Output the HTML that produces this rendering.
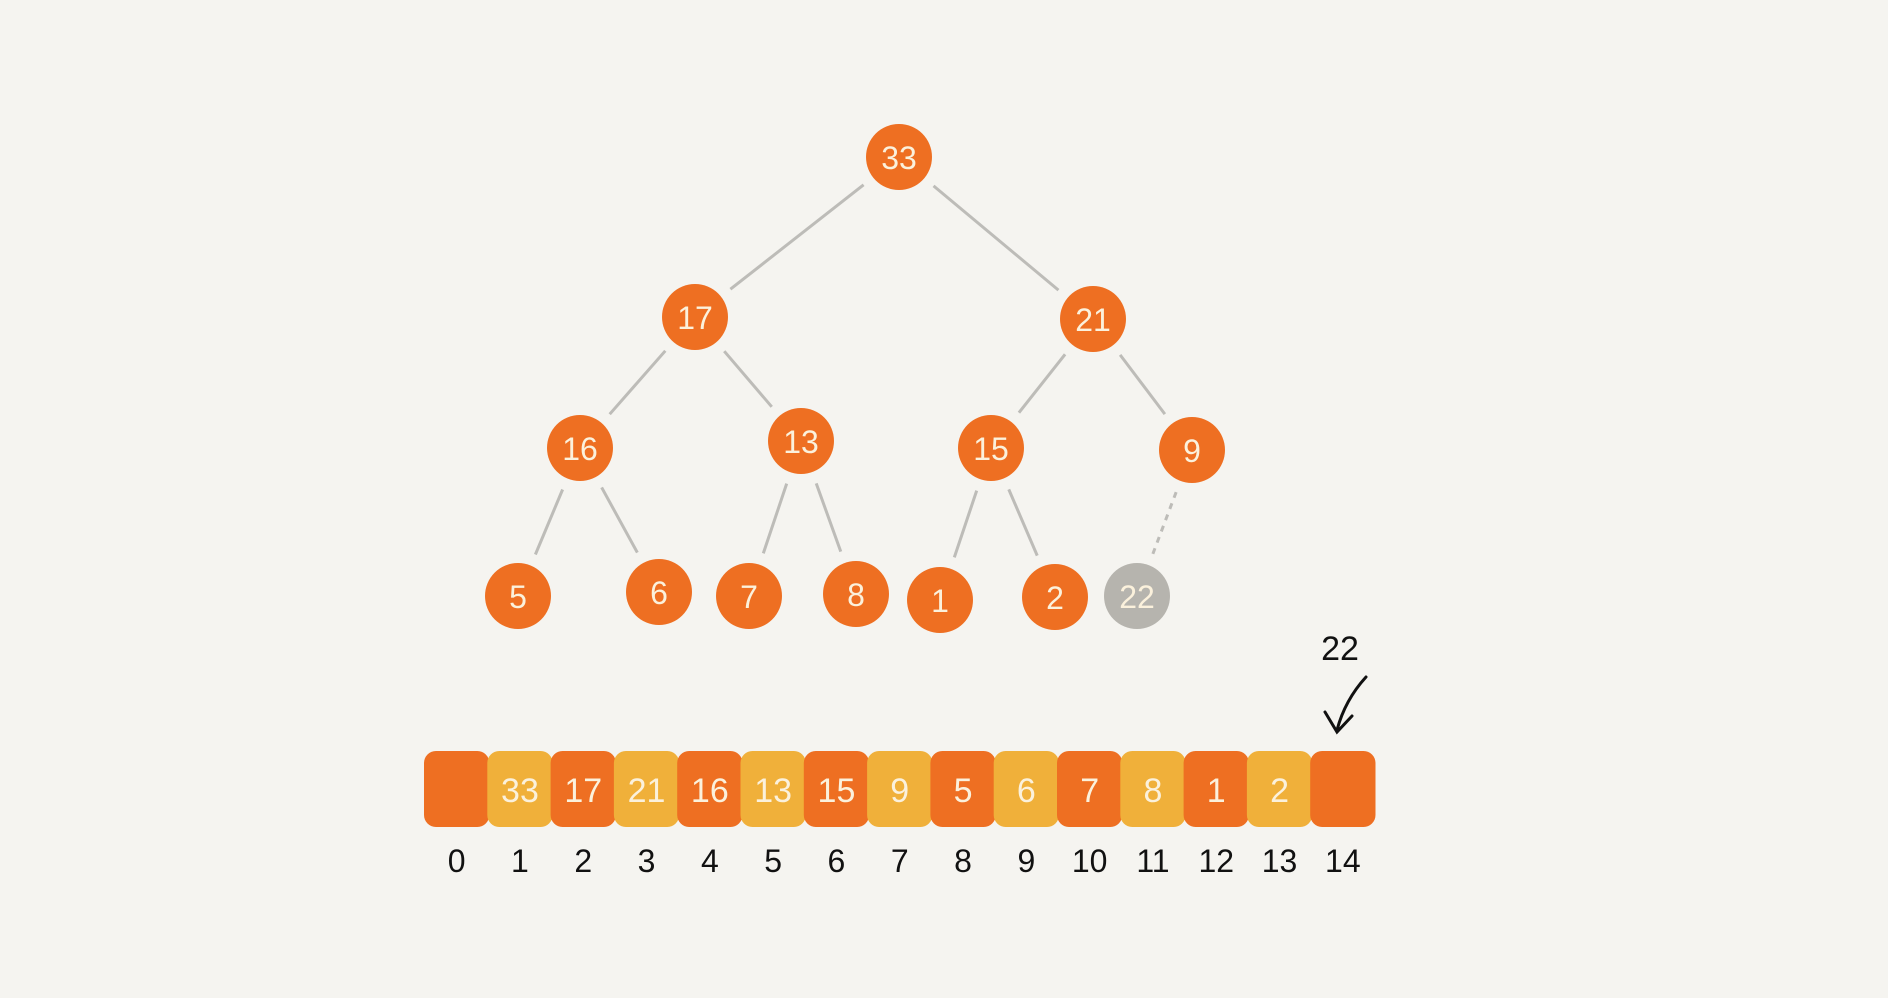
<!DOCTYPE html>
<html><head><meta charset="utf-8"><style>
html,body{margin:0;padding:0;background:#f5f4f0;}
svg{display:block;}
text{font-family:"Liberation Sans",sans-serif;}
</style></head><body>
<svg id="chart" width="1888" height="998" viewBox="0 0 1888 998">
<rect width="1888" height="998" fill="#f5f4f0"/>
<g id="edges"></g><g id="nodes"></g><g id="cells"></g><g id="idx"></g>
<text x="1340" y="660" font-size="34" text-anchor="middle" fill="#111">22</text>
<path d="M1366 677 Q1345 700 1337 730 M1325 712 L1337 732 L1352 716" stroke="#111" stroke-width="3" fill="none" stroke-linecap="round"/>
</svg>
<script>
const heapValues = [33,17,21,16,13,15,9,5,6,7,8,1,2,22];
const newIndex = 14;
const indexLabels = ["0","1","2","3","4","5","6","7","8","9","10","11","12","13","14"];
const nodeX = [899,695,1093,580,801,991,1192,518,659,749,856,940,1055,1137];
const nodeY = [157,317,319,448,441,448,450,596,592,596,594,600,597,596];
const NS="http://www.w3.org/2000/svg";
const R=33;
const edges=document.getElementById('edges'),nodes=document.getElementById('nodes'),cells=document.getElementById('cells'),idx=document.getElementById('idx');
for(let i=1;i<heapValues.length;i++){
  const p=Math.floor((i-1)/2);
  const x1=nodeX[p],y1=nodeY[p],x2=nodeX[i],y2=nodeY[i];
  const d=Math.hypot(x2-x1,y2-y1),ux=(x2-x1)/d,uy=(y2-y1)/d,g=R+12;
  const l=document.createElementNS(NS,'line');
  l.setAttribute('x1',x1+ux*g);l.setAttribute('y1',y1+uy*g);
  l.setAttribute('x2',x2-ux*g);l.setAttribute('y2',y2-uy*g);
  l.setAttribute('stroke','#bdbcb8');l.setAttribute('stroke-width','3');
  if(i+1===newIndex) l.setAttribute('stroke-dasharray','6 6');
  
  
  edges.appendChild(l);
}
heapValues.forEach((v,i)=>{
  const isNew=(i+1===newIndex);
  const c=document.createElementNS(NS,'circle');
  c.setAttribute('cx',nodeX[i]);c.setAttribute('cy',nodeY[i]);c.setAttribute('r',R);
  c.setAttribute('fill',isNew?'#b6b4ae':'#ee6f22');
  
  
  nodes.appendChild(c);
  const t=document.createElementNS(NS,'text');
  t.setAttribute('x',nodeX[i]);t.setAttribute('y',nodeY[i]+12);
  t.setAttribute('text-anchor','middle');t.setAttribute('font-size','32');t.setAttribute('fill','#fbf1dc');
  t.textContent=v;
  
  
  nodes.appendChild(t);
});
const cellW=63.3, x0=425, cy=751, ch=76;
indexLabels.forEach((lab,i)=>{
  const r=document.createElementNS(NS,'rect');
  r.setAttribute('x',x0+i*cellW-1);r.setAttribute('y',cy);r.setAttribute('width',cellW+2);r.setAttribute('height',ch);
  r.setAttribute('rx','12');
  r.setAttribute('fill',i%2===0?'#ee6f22':'#f0b03a');
  
  
  cells.appendChild(r);
  if(i>=1 && i<newIndex){
    const t=document.createElementNS(NS,'text');
    t.setAttribute('x',x0+i*cellW+cellW/2);t.setAttribute('y',cy+ch/2+13);
    t.setAttribute('text-anchor','middle');t.setAttribute('font-size','34');t.setAttribute('fill','#fbf1dc');
    t.textContent=heapValues[i-1];
    
    
    cells.appendChild(t);
  }
  const t2=document.createElementNS(NS,'text');
  t2.setAttribute('x',x0+i*cellW+cellW/2);t2.setAttribute('y',872);
  t2.setAttribute('text-anchor','middle');t2.setAttribute('font-size','32');t2.setAttribute('fill','#111');
  t2.textContent=lab;
  
  
  idx.appendChild(t2);
});
</script>
</body></html>
